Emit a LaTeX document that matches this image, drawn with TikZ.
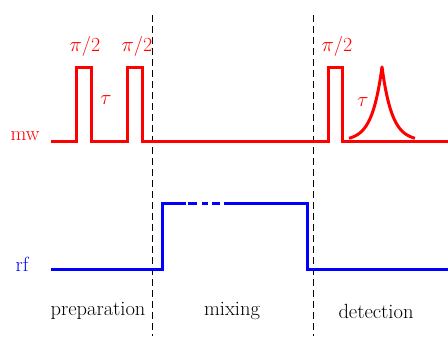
\documentclass[tikz,border=0pt]{standalone}
\begin{document}
\begin{tikzpicture}[x=1pt,y=-1pt,
  mwline/.style={draw=red,line width=3pt,line join=miter},
  rfline/.style={draw=blue,line width=3pt,line join=miter},
  divider/.style={draw=black,line width=0.9pt,dash pattern=on 7pt off 4pt},
  lbl/.style={font=\fontsize{20.5}{24}\selectfont,inner sep=0pt},
  plbl/.style={font=\fontsize{20}{24}\selectfont,inner sep=0pt,text=red}]
\useasboundingbox (0,0) rectangle (448,338);
% dividers
\coordinate (d1t) at (152,15); \coordinate (d1b) at (152,336);
\coordinate (d2t) at (313,15); \coordinate (d2b) at (313,336);
\draw[divider] (d1t) -- (d1b);
\draw[divider] (d2t) -- (d2b);
% mw line
\draw[mwline] (51,141) -- (76,141) -- (76,67) -- (91,67) -- (91,141)
  -- (127,141) -- (127,67) -- (142,67) -- (142,141) -- (328,141)
  -- (328,67) -- (342,67) -- (342,141) -- (448,141);
\draw[mwline,line join=round,domain=-33:33,samples=151,smooth]
  plot ({382+\x},{141-74*exp(-abs(\x)/10)});
% rf line
\draw[rfline] (51,269) -- (162,269) -- (162,203) -- (186,203);
\draw[rfline] (188,203) -- (197,203);
\draw[rfline] (202,203) -- (208,203);
\draw[rfline] (212,203) -- (220,203);
\draw[rfline] (224,203) -- (307,203) -- (307,269) -- (448,269);
% labels
\node[lbl,text=red] (mw) at (25,136) {mw};
\node[lbl,text=blue] (rf) at (22,264) {rf};
\node[plbl] (p1) at (85,46) {$\pi$/2};
\node[plbl] (p2) at (137,46) {$\pi$/2};
\node[plbl] (p3) at (337,46) {$\pi$/2};
\node[plbl] (t1) at (106,100) {$\tau$};
\node[plbl] (t2) at (363,102) {$\tau$};
\node[lbl] (prep) at (98,311) {preparation};
\node[lbl] (mix) at (232,311) {mixing};
\node[lbl] (det) at (376,311) {detection};
\end{tikzpicture}
\end{document}
